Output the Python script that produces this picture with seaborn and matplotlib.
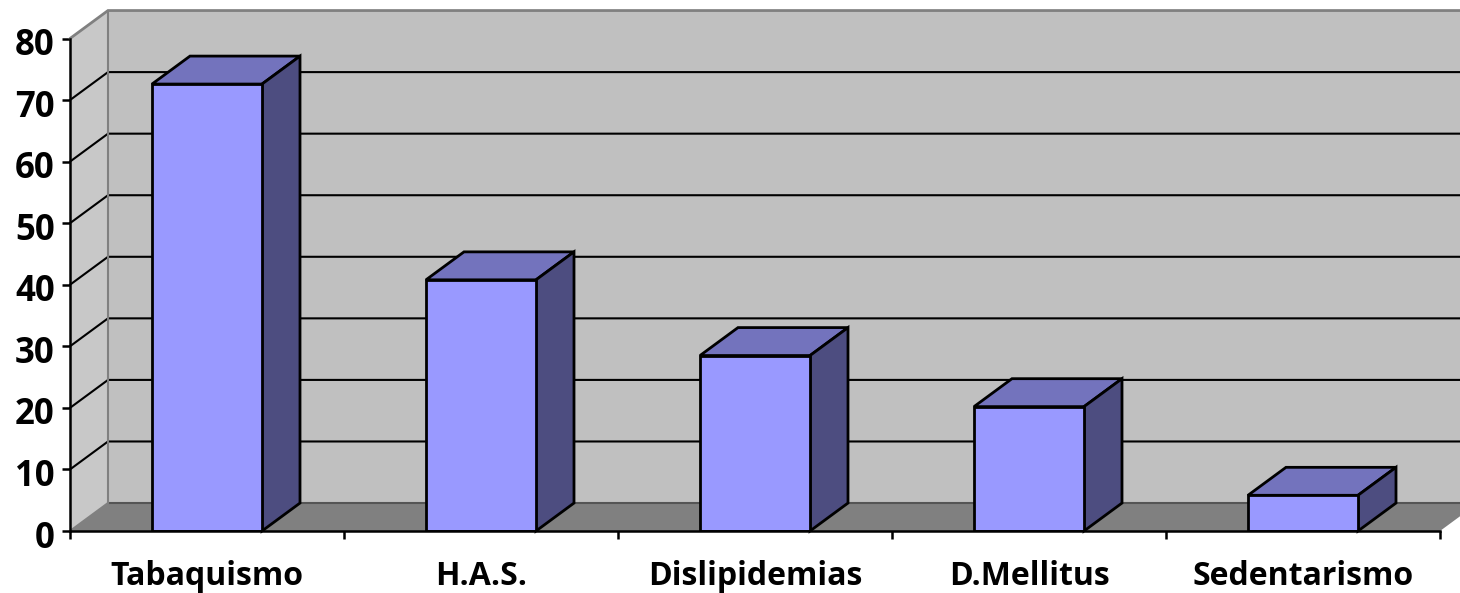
import matplotlib
matplotlib.use("Agg")
import matplotlib.pyplot as plt
from matplotlib.patches import Polygon
from matplotlib.transforms import ScaledTranslation
import seaborn as sns

categories = ["Tabaquismo", "H.A.S.", "Dislipidemias", "D.Mellitus", "Sedentarismo"]
values = [72.6, 40.8, 28.5, 20.2, 5.8]
y_ticks = [0, 10, 20, 30, 40, 50, 60, 70, 80]

FRONT = "#9999ff"
TOP = "#7373bd"
SIDE = "#4d4d80"
BACK_WALL = "#c0c0c0"
SIDE_WALL = "#c8c8c8"
FLOOR = "#808080"
FRAME = "#808080"

# Oblique depth of the box, in category and value units
DX = 38 / 274
DY = 28 / 6.165
BAR_WIDTH = 110 / 274

sns.set_theme(style="white")
plt.rcParams["font.family"] = ["Open Sans", "DejaVu Sans"]

W, H = 1460, 593
fig = plt.figure(figsize=(W / 100, H / 100), dpi=100, facecolor="white")
ax = fig.add_axes([70 / W, 1 - 531 / H, 1370 / W, (531 - 38.5) / H])

x0, x1 = -0.5, len(categories) - 0.5
y0, y1 = y_ticks[0], y_ticks[-1]


def face(points, color, edge=None, lw=0.0, z=1):
    ax.add_patch(Polygon(points, closed=True, facecolor=color, edgecolor=edge or color,
                         linewidth=lw, zorder=z, clip_on=False, joinstyle="miter"))


# Walls and floor of the box
face([(x0 + DX, y0 + DY), (x1 + DX + 0.2, y0 + DY), (x1 + DX + 0.2, y1 + DY), (x0 + DX, y1 + DY)], BACK_WALL, z=0.5)
face([(x0, y0), (x0 + DX, y0 + DY), (x0 + DX, y1 + DY), (x0, y1)], SIDE_WALL, z=0.6)
face([(x0, y0), (x1, y0), (x1 + DX, y0 + DY), (x0 + DX, y0 + DY)], FLOOR, z=0.7)

# Gridlines run across the back wall and fold down the side wall
for v in y_ticks[1:-1]:
    ax.plot([x0, x0 + DX, x1 + DX + 0.2], [v, v + DY, v + DY], color="black", lw=1.5,
            zorder=0.8, clip_on=False, solid_joinstyle="miter")
ax.plot([x0 + DX, x1 + DX + 0.2], [y0 + DY, y0 + DY], color="#555555", lw=1.5, zorder=0.8, clip_on=False)
ax.plot([x0, x0 + DX, x1 + DX + 0.2], [y1, y1 + DY, y1 + DY], color=FRAME, lw=2.0,
        zorder=0.8, clip_on=False, solid_joinstyle="miter")
ax.plot([x0 + DX, x0 + DX], [y0 + DY, y1 + DY], color=FRAME, lw=1.5, zorder=0.8, clip_on=False)
ax.plot([x0, x0 + DX], [y0, y0 + DY], color=FRAME, lw=1.5, zorder=0.8, clip_on=False)

# Front faces of the columns
sns.barplot(x=categories, y=values, width=BAR_WIDTH, color=FRONT, saturation=1,
            edgecolor="black", linewidth=2.0, ax=ax, zorder=3)

# Top and side faces follow each front face
for bar in ax.patches:
    if not isinstance(bar, matplotlib.patches.Rectangle):
        continue
    left, w, h = bar.get_x(), bar.get_width(), bar.get_height()
    right = left + w
    face([(left, h), (right, h), (right + DX, h + DY), (left + DX, h + DY)], TOP, "black", 2.0, 2)
    face([(right, 0), (right + DX, DY), (right + DX, h + DY), (right, h)], SIDE, "black", 2.0, 2)

ax.set_xlim(x0, x1)
ax.set_ylim(y0, y1)
ax.patch.set_visible(False)
for name in ("top", "right"):
    ax.spines[name].set_visible(False)
for name in ("left", "bottom"):
    ax.spines[name].set_color("black")
    ax.spines[name].set_linewidth(1.8)
    ax.spines[name].set_zorder(4)

# Ticks mark the category boundaries, labels sit at the centres
ax.set_xticks([i - 0.5 for i in range(len(categories) + 1)])
ax.set_xticklabels([])
ax.set_xticks(range(len(categories)), categories, minor=True, fontsize=23, fontweight="bold", color="black")
ax.tick_params(axis="x", which="major", bottom=True, length=6, width=1.8, color="black")
ax.tick_params(axis="x", which="minor", bottom=False, length=0, pad=21)
ax.set_yticks(y_ticks, [str(v) for v in y_ticks], fontsize=25, fontweight="bold", color="black")
ax.tick_params(axis="y", left=True, length=6, width=1.8, color="black", pad=5)

# Nudge the value labels down so the digits centre on their ticks
nudge = ScaledTranslation(0, -3 / 100, fig.dpi_scale_trans)
for label in ax.get_yticklabels():
    label.set_transform(label.get_transform() + nudge)

ax.set_xlabel("")
ax.set_ylabel("")

fig.savefig("out.png", dpi=100, facecolor="white")
